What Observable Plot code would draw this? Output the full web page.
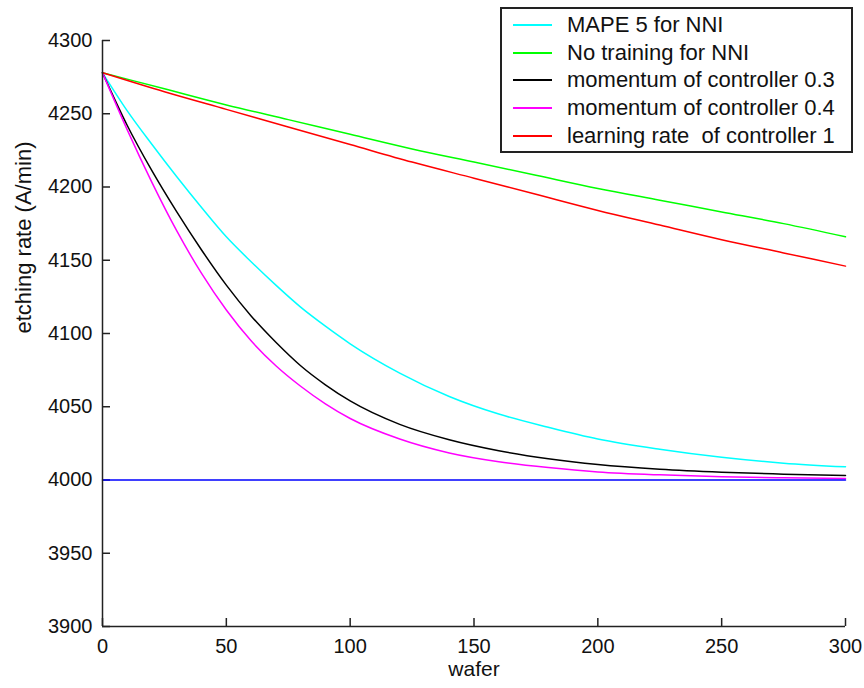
<!DOCTYPE html>
<html>
<head>
<meta charset="utf-8">
<script src="https://cdn.jsdelivr.net/npm/d3@7"></script>
<script src="https://cdn.jsdelivr.net/npm/@observablehq/plot@0.6"></script>
<style>
  body { margin: 0; background: #fff; }
  #wrap { position: relative; width: 864px; height: 688px; font-family: "Liberation Sans", Arial, sans-serif; }
  #legend { position: absolute; left: 500px; top: 7px; width: 353px; height: 146px; box-sizing: border-box;
            border: 2px solid #222; background: #fff; }
  .row { position: absolute; left: 0; height: 28px; display: flex; align-items: center; white-space: pre; }
  .sample { width: 39px; height: 0; border-top: 2px solid; margin-left: 11px; margin-right: 15px; }
  .label { font-size: 22px; color: #111; }
</style>
</head>
<body>
<div id="wrap"><div id="legend"></div></div>
<script>
// ---- data ----
const waferA = [0, 10, 20, 30, 40, 50, 60, 70, 80, 90, 100, 120, 140, 160, 180, 200, 225, 250, 275, 300];
const mape5 =       [4278, 4252, 4229, 4207, 4186, 4166, 4149, 4133, 4118, 4105, 4093, 4073, 4057, 4045, 4036, 4028, 4021, 4015.5, 4011.5, 4009];
const momentum03 =  [4278, 4242, 4211, 4183, 4157, 4133, 4112, 4094, 4078, 4065, 4054, 4038, 4027.5, 4020, 4014.5, 4010.5, 4007.3, 4005.3, 4004, 4003];
const momentum04 =  [4278, 4239, 4203, 4170, 4141, 4116, 4095, 4078, 4064, 4052, 4042, 4028, 4018.5, 4012.5, 4008.5, 4005.5, 4003.5, 4002.3, 4001.5, 4001];
const waferB = [0, 25, 50, 75, 100, 125, 150, 175, 200, 225, 250, 275, 300];
const noTraining =   [4278, 4267, 4256, 4246, 4236, 4226, 4217, 4208, 4199, 4191, 4183, 4175, 4166];
const learningRate = [4278, 4265, 4253, 4241, 4229, 4217, 4206, 4195, 4184, 4174, 4164, 4155, 4146];
const waferTarget = [0, 300];
const target = [4000, 4000];

const seriesNames = ["MAPE 5 for NNI", "No training for NNI", "momentum of controller 0.3",
                     "momentum of controller 0.4", "learning rate  of controller 1"];
const xTicks = [0, 50, 100, 150, 200, 250, 300];
const yTicks = [3900, 3950, 4000, 4050, 4100, 4150, 4200, 4250, 4300];
const xLabel = "wafer";
const yLabel = "etching rate (A/min)";

// ---- styles ----
const colors = ["#00ffff", "#00ff00", "#000000", "#ff00ff", "#ff0000"];
const targetColor = "#0000ff";

const series = [
  {name: seriesNames[0], w: waferA, v: mape5, color: colors[0]},
  {name: seriesNames[1], w: waferB, v: noTraining, color: colors[1]},
  {name: seriesNames[2], w: waferA, v: momentum03, color: colors[2]},
  {name: seriesNames[3], w: waferA, v: momentum04, color: colors[3]},
  {name: seriesNames[4], w: waferB, v: learningRate, color: colors[4]}
];
const toRows = (ws, vs) => ws.map((w, i) => ({w, v: vs[i]}));

const lineMarks = series.map(s =>
  Plot.line(toRows(s.w, s.v), {x: "w", y: "v", stroke: s.color, strokeWidth: 1.5, curve: "monotone-x"}));

const fmt = d3.format("d");
const chart = Plot.plot({
  width: 864, height: 688,
  marginLeft: 102, marginRight: 19, marginTop: 40, marginBottom: 62,
  style: {fontFamily: "Liberation Sans, Arial, sans-serif", fontSize: "20px", color: "#111", background: "#fff", overflow: "visible"},
  x: {domain: [0, 300]},
  y: {domain: [3900, 4300]},
  marks: [
    Plot.axisY(yTicks, {tickSize: 0, tickPadding: 10, tickFormat: fmt, label: null, fill: "#111"}),
    Plot.axisY(yTicks, {tickSize: 8, dx: 8, tickFormat: () => "", label: null, stroke: "#222", strokeWidth: 1.5}),
    Plot.axisX(xTicks, {tickSize: 0, tickPadding: 12, tickFormat: fmt, label: null, fill: "#111"}),
    Plot.axisX(xTicks, {tickSize: 8, dy: -8, tickFormat: () => "", label: null, stroke: "#222", strokeWidth: 1.5}),
    ...lineMarks,
    Plot.line(toRows(waferTarget, target), {x: "w", y: "v", stroke: targetColor, strokeWidth: 1.5}),
    Plot.ruleX([0], {stroke: "#222", strokeWidth: 1.5}),
    Plot.ruleY([3900], {stroke: "#222", strokeWidth: 1.5}),
    Plot.text([xLabel], {frameAnchor: "bottom", dy: 49, fontSize: 21, fill: "#111"}),
    Plot.text([yLabel], {frameAnchor: "left", dx: -79, rotate: -90, fontSize: 22, fill: "#111"})
  ]
});
const wrap = document.getElementById("wrap");
wrap.insertBefore(chart, wrap.firstChild);

// legend
const legend = document.getElementById("legend");
series.forEach((s, i) => {
  const row = document.createElement("div");
  row.className = "row";
  row.style.top = (2 + i * 27.7) + "px";
  const sample = document.createElement("div");
  sample.className = "sample";
  sample.style.borderTopColor = s.color;
  const label = document.createElement("span");
  label.className = "label";
  label.textContent = s.name;
  row.appendChild(sample);
  row.appendChild(label);
  legend.appendChild(row);
});
</script>
</body>
</html>
